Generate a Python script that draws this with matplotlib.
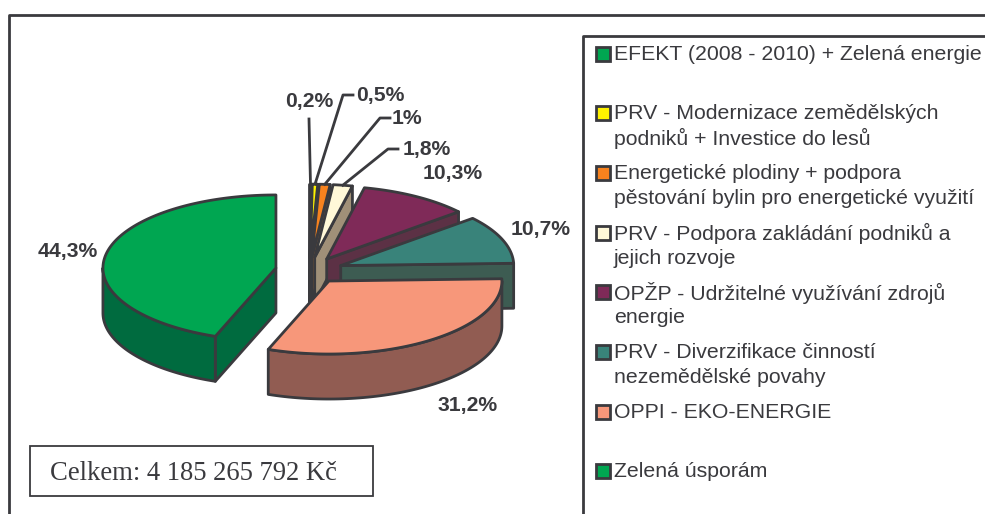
import numpy as np
from matplotlib import pyplot as plt
from matplotlib.patches import Polygon, Rectangle

plt.rcParams["font.family"] = ["Liberation Sans", "DejaVu Sans"]

shares = [0.2, 0.5, 1.0, 1.8, 10.3, 10.7, 31.2, 44.3]
share_labels = ["0,2%", "0,5%", "1%", "1,8%", "10,3%", "10,7%", "31,2%", "44,3%"]
top_colors = ["#00A651", "#FFF200", "#F7821E", "#FFF8D8", "#7F2A58", "#39837A", "#F7977A", "#00A651"]
side_colors = ["#1F5A40", "#8A8420", "#8A5A30", "#A09078", "#5C3145", "#3D5C52", "#915C52", "#006B3F"]

legend_entries = [
    "EFEKT (2008 - 2010) + Zelená energie",
    "PRV - Modernizace zemědělských\npodniků + Investice do lesů",
    "Energetické plodiny + podpora\npěstování bylin pro energetické využití",
    "PRV - Podpora zakládání podniků a\njejich rozvoje",
    "OPŽP - Udržitelné využívání zdrojů\nenergie",
    "PRV - Diverzifikace činností\nnezemědělské povahy",
    "OPPI - EKO-ENERGIE",
    "Zelená úsporám",
]
legend_colors = ["#00A651", "#FFF200", "#F7821E", "#FFF8D8", "#7F2A58", "#39837A", "#F7977A", "#00A651"]
total_text = "Celkem: 4 185 265 792 Kč"

INK = "#3A3A3E"
CX, CY = 309.2, 270.3
RX, RY = 173, 73
DEPTH = 45
EXPLODE = (33.8, 13.2)
LW = 2.0

# label centres and leader elbows, in image pixels
label_pos = [(309, 102), (380, 95), (407, 119), (427, 149), (453, 174), (541, 230), (468, 405), (68, 251)]
leaders = {
    0: [(309, 119)],
    1: [(343, 95), (353, 95)],
    2: [(380, 118), (390, 118)],
    3: [(388, 149), (398, 149)],
}


def rim(cx, cy, angle):
    # angle in degrees, clockwise from 12 o'clock
    a = np.radians(angle)
    return np.column_stack([cx + RX * np.sin(a), cy - RY * np.cos(a)])


def draw_slice(ax, start, end, top, side, z):
    mid = np.radians((start + end) / 2)
    cx = CX + EXPLODE[0] * np.sin(mid)
    cy = CY - EXPLODE[1] * np.cos(mid)
    style = dict(edgecolor=INK, lw=LW, joinstyle="round", zorder=z)

    # radial walls
    if np.sin(np.radians(end)) > 0:
        p = rim(cx, cy, np.array([end]))[0]
        ax.add_patch(Polygon([(cx, cy), p, p + (0, DEPTH), (cx, cy + DEPTH)], facecolor=side, **style))
    if np.sin(np.radians(start)) < 0:
        p = rim(cx, cy, np.array([start]))[0]
        ax.add_patch(Polygon([(cx, cy), p, p + (0, DEPTH), (cx, cy + DEPTH)], facecolor=side, **style))

    # outer wall, only the part turned to the viewer
    a0, a1 = max(start, 90), min(end, 270)
    if a1 > a0:
        arc = rim(cx, cy, np.linspace(a0, a1, 80))
        wall = np.vstack([arc, arc[::-1] + (0, DEPTH)])
        ax.add_patch(Polygon(wall, facecolor=side, **style))

    # top face
    arc = rim(cx, cy, np.linspace(start, end, 120))
    ax.add_patch(Polygon(np.vstack([[(cx, cy)], arc]), facecolor=top, **style))
    return cx, cy


def draw_pie(ax):
    edges = np.cumsum([0] + shares) / sum(shares) * 360
    for i in range(len(shares)):
        draw_slice(ax, edges[i], edges[i + 1], top_colors[i], side_colors[i], 3 + i * 0.1)

    for i, elbow in leaders.items():
        mid = np.radians((edges[i] + edges[i + 1]) / 2)
        cx = CX + EXPLODE[0] * np.sin(mid)
        cy = CY - EXPLODE[1] * np.cos(mid)
        start = rim(cx, cy, np.array([(edges[i] + edges[i + 1]) / 2]))[0]
        pts = np.vstack([start, elbow])
        ax.plot(pts[:, 0], pts[:, 1], color=INK, lw=LW, zorder=5)

    for text, (x, y) in zip(share_labels, label_pos):
        ax.text(x, y, text, ha="center", va="center", fontsize=15.2, fontweight="bold", color=INK, zorder=6)


def draw_legend(ax):
    for i, (text, color) in enumerate(zip(legend_entries, legend_colors)):
        y = 53.5 + i * 59.7
        ax.add_patch(Rectangle((595.5, y - 7), 14, 14, facecolor=color, edgecolor=INK, lw=2.0, zorder=3))
        for j, line in enumerate(text.split("\n")):
            ax.text(614, y + j * 25 + 0.5, line, ha="left", va="center", fontsize=15.3, color=INK, zorder=3)


def main():
    fig = plt.figure(figsize=(9.85, 5.14), dpi=100)
    ax = fig.add_axes([0, 0, 1, 1])
    ax.set_xlim(0, 985)
    ax.set_ylim(514, 0)
    ax.axis("off")

    # frames run off the right and bottom of the picture
    ax.plot([9, 9, 990], [520, 14.5, 14.5], color=INK, lw=2.0, zorder=1)
    ax.plot([583, 583, 990], [520, 36, 36], color=INK, lw=2.0, zorder=1)

    draw_pie(ax)
    draw_legend(ax)

    ax.add_patch(Rectangle((29.5, 445.5), 343, 50, facecolor="white", edgecolor=INK, lw=1.3, zorder=2))
    ax.text(50, 474, total_text, family=["Liberation Serif"], fontsize=19.2, ha="left", va="center", color=INK, zorder=3)

    fig.savefig("out.png", dpi=100)
    plt.close(fig)


if __name__ == "__main__":
    main()
